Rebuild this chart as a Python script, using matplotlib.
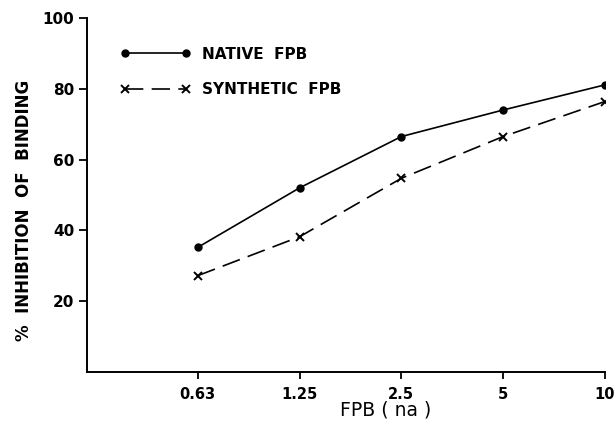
import numpy as np
import matplotlib
matplotlib.use('Agg')
import matplotlib.pyplot as plt

doses = ['0.63', '1.25', '2.5', '5', '10']
native = [35.2, 52.0, 66.5, 74.0, 81.1]
synthetic = [27.2, 38.2, 54.7, 66.5, 76.4]
yticks = [20, 40, 60, 80, 100]

plt.rcParams['font.family'] = 'DejaVu Sans'
plt.rcParams['font.weight'] = 'bold'

fig = plt.figure(figsize=(6.16, 4.28), dpi=100)
ax = fig.add_axes([0.141, 0.131, 0.841, 0.827])

x = np.arange(len(doses))
ax.plot(x, native, color='black', lw=1.2, marker='o', ms=5, label='NATIVE  FPB')
ax.plot(x, synthetic, color='black', lw=1.2, marker='x', ms=6, mew=1.4,
        dashes=(11, 5), label='SYNTHETIC  FPB')

ax.set_xlim(-1.09, 4)
ax.set_ylim(0, 100)
ax.set_xticks(x)
ax.set_xticklabels(doses, fontsize=10.5)
ax.set_yticks(yticks)
ax.set_yticklabels([str(v) for v in yticks], fontsize=11)
ax.spines['top'].set_visible(False)
ax.spines['right'].set_visible(False)
for s in ['left', 'bottom']:
    ax.spines[s].set_linewidth(1.4)
ax.tick_params(axis='y', length=6, width=1.3, pad=3)
ax.tick_params(axis='x', length=5, width=1.3, pad=6)

ax.set_xlabel('FPB ( na )', fontsize=13.5, fontweight='normal', va='top')
ax.xaxis.set_label_coords(0.577, -0.082)
fig.text(0.039, 0.509, '%  INHIBITION  OF  BINDING', rotation=90, fontsize=12,
         fontweight='bold', ha='center', va='center')

ax.legend(loc='upper left', bbox_to_anchor=(0.038, 0.958), frameon=False,
          numpoints=2, handlelength=4.6, handletextpad=0.75, labelspacing=1.35,
          fontsize=11)

fig.savefig('out.png', dpi=100)
